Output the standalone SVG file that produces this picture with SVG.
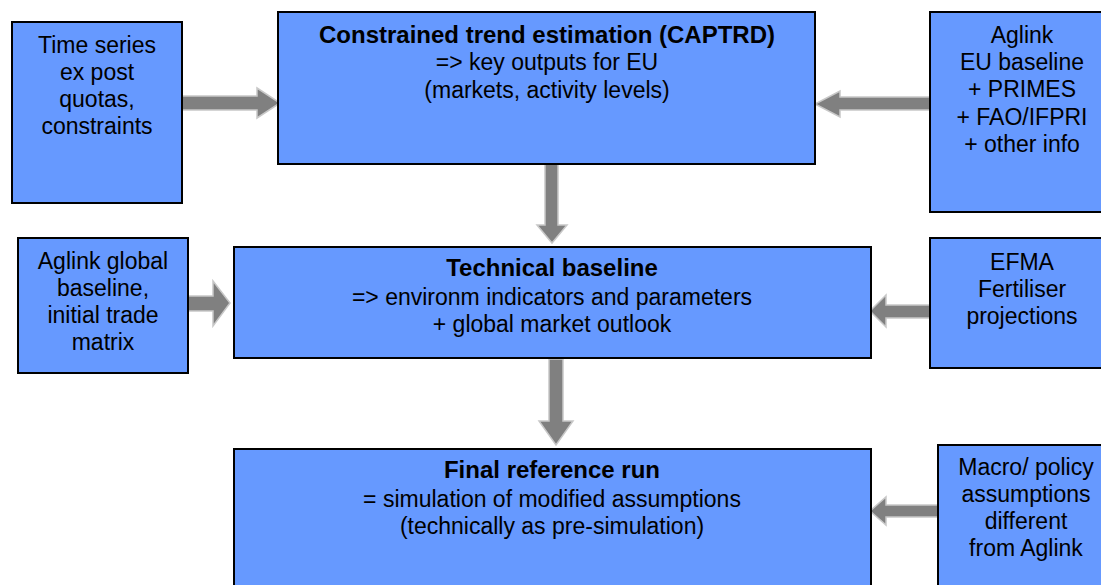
<svg xmlns="http://www.w3.org/2000/svg" width="1101" height="585" viewBox="0 0 1101 585">
<style>
.box{fill:#6699FF;stroke:#000;stroke-width:2}
text{font-family:"Liberation Sans",Arial,sans-serif;font-size:23px;fill:#000;text-anchor:middle}
.b{font-weight:bold;font-size:24px}
.arr{fill:#808080;stroke:#c8c8c8;stroke-width:1.5}
</style>
<rect width="1101" height="585" fill="#fff"/>
<g id="connectors">
<polygon class="arr" points="182,96 257,96 257,88 280,103 257,118 257,110 182,110"/>
<polygon class="arr" points="930,97 840,97 840,91 815,104 840,117 840,110 930,110"/>
<polygon class="arr" points="545,164 558,164 558,225 567,225 552,243 537,225 545,225"/>
<polygon class="arr" points="188,296 213,296 213,281 230,303 213,326 213,311 188,311"/>
<polygon class="arr" points="930,305 886,305 886,295 870,311 886,327 886,318 930,318"/>
<polygon class="arr" points="549,359 563,359 563,421 573,421 556,445 539,421 549,421"/>
<polygon class="arr" points="938,505 886,505 886,497 870,511 886,525 886,517 938,517"/>
</g>
<g id="n-timeseries">
<rect class="box" x="12" y="22" width="170" height="181"/>
<text x="97" y="53">Time series</text>
<text x="97" y="80">ex post</text>
<text x="97" y="107">quotas,</text>
<text x="97" y="134">constraints</text>
</g>
<g id="n-captrd">
<rect class="box" x="278" y="12" width="537" height="152"/>
<text class="b" x="547" y="43">Constrained trend estimation (CAPTRD)</text>
<text x="547" y="70">=&gt; key outputs for EU</text>
<text x="547" y="98">(markets, activity levels)</text>
</g>
<g id="n-aglinkeu">
<rect class="box" x="930" y="12" width="180" height="200"/>
<text x="1022" y="43">Aglink</text>
<text x="1022" y="70">EU baseline</text>
<text x="1022" y="97">+ PRIMES</text>
<text x="1022" y="125">+ FAO/IFPRI</text>
<text x="1022" y="152">+ other info</text>
</g>
<g id="n-aglinkglobal">
<rect class="box" x="18" y="238" width="170" height="135"/>
<text x="103" y="269">Aglink global</text>
<text x="103" y="296">baseline,</text>
<text x="103" y="323">initial trade</text>
<text x="103" y="350">matrix</text>
</g>
<g id="n-technical">
<rect class="box" x="234" y="247" width="637" height="111"/>
<text class="b" x="552" y="276">Technical baseline</text>
<text x="552" y="305">=&gt; environm indicators and parameters</text>
<text x="552" y="332">+ global market outlook</text>
</g>
<g id="n-efma">
<rect class="box" x="930" y="238" width="180" height="130"/>
<text x="1022" y="270">EFMA</text>
<text x="1022" y="297">Fertiliser</text>
<text x="1022" y="324">projections</text>
</g>
<g id="n-final">
<rect class="box" x="234" y="449" width="637" height="150"/>
<text class="b" x="552" y="478">Final reference run</text>
<text x="552" y="507">= simulation of modified assumptions</text>
<text x="552" y="534">(technically as pre-simulation)</text>
</g>
<g id="n-macro">
<rect class="box" x="938" y="445" width="175" height="150"/>
<text x="1026" y="475">Macro/ policy</text>
<text x="1026" y="502">assumptions</text>
<text x="1026" y="529">different</text>
<text x="1026" y="556">from Aglink</text>
</g>
</svg>
